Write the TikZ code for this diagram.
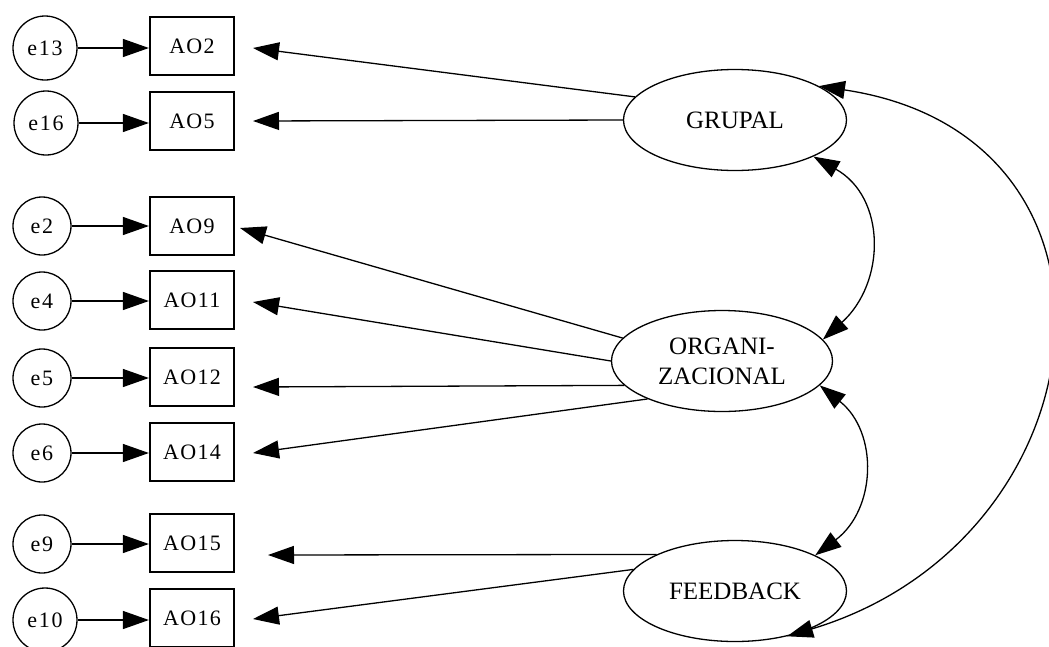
\documentclass[tikz,border=0pt]{standalone}
\usepackage{fontspec}
\setmainfont{Liberation Serif}
\usetikzlibrary{arrows.meta,shapes.geometric}
\begin{document}
\begin{tikzpicture}[x=1pt,y=-1pt,
  every path/.style={line width=1.3pt},
  arr/.style={-{Triangle[length=26pt,width=18pt]}},
  biarr/.style={{Triangle[length=26pt,width=18pt]}-{Triangle[length=26pt,width=18pt]}},
  err/.style={circle,draw,line width=1.3pt,inner sep=0pt,minimum size=58pt,
    font=\fontsize{22}{26}\selectfont\addfontfeature{LetterSpace=8}},
  errwide/.style={err,minimum size=64pt},
  item/.style={rectangle,draw,line width=2.2pt,inner sep=0pt,
    minimum width=84pt,minimum height=58pt,
    font=\fontsize{22}{26}\selectfont\addfontfeature{LetterSpace=6}},
  factor/.style={ellipse,draw,line width=1.3pt,inner sep=0pt,
    minimum width=223pt,minimum height=101pt,align=center,
    font=\fontsize{25}{30}\selectfont}]
\useasboundingbox (0,0) rectangle (1049,646);

% error terms
\node[errwide] (e13) at (45,48)  {e13};
\node[errwide] (e16) at (46,123) {e16};
\node[err]     (e2)  at (42,226) {e2};
\node[err]     (e4)  at (42,301) {e4};
\node[err]     (e5)  at (42,378) {e5};
\node[err]     (e6)  at (42,453) {e6};
\node[err]     (e9)  at (42,544) {e9};
\node[errwide] (e10) at (45,620) {e10};

% observed items
\node[item] (AO2)  at (192,46)  {AO2};
\node[item] (AO5)  at (192,121) {AO5};
\node[item] (AO9)  at (192,226) {AO9};
\node[item] (AO11) at (192,300) {AO11};
\node[item] (AO12) at (192,377) {AO12};
\node[item] (AO14) at (192,452) {AO14};
\node[item] (AO15) at (192,543) {AO15};
\node[item] (AO16) at (192,618) {AO16};

% latent factors
\node[factor] (GRUPAL)   at (735,120) {GRUPAL};
\node[factor, minimum width=221pt] (ORG) at (722,361) {ORGANI-\\ZACIONAL};
\node[factor] (FEEDBACK) at (735,591) {FEEDBACK};

% loading arrow tips
\coordinate (t2)  at (253,48);
\coordinate (t5)  at (253,121);
\coordinate (t9)  at (240,228);
\coordinate (t11) at (253,302);
\coordinate (t12) at (253,387);
\coordinate (t14) at (253,453);
\coordinate (t15) at (268,555);
\coordinate (t16) at (253,619);

% error paths
\foreach \e/\i in {e13/AO2,e16/AO5,e2/AO9,e4/AO11,e5/AO12,e6/AO14,e9/AO15,e10/AO16}
  \draw[arr] (\e) -- (\e -| \i.west);

% factor loadings
\draw[arr] (GRUPAL.167) -- (t2);
\draw[arr] (GRUPAL.180) -- (t5);
\draw[arr] (ORG.167) -- (t9);
\draw[arr] (ORG.180) -- (t11);
\draw[arr] (ORG.194) -- (t12);
\draw[arr] (ORG.207) -- (t14);
\draw[arr] (FEEDBACK.155) -- (t15);
\draw[arr] (FEEDBACK.168) -- (t16);

% covariances
\draw[biarr] (GRUPAL.-25) .. controls +(73,41) and +(63,-57) .. (ORG.12);
\draw[biarr] (ORG.-14) .. controls +(59,47) and +(61,-46) .. (FEEDBACK.24);
\draw[biarr] (GRUPAL.22) .. controls +(334,50) and +(320,-96) .. (FEEDBACK.-41);
\end{tikzpicture}
\end{document}
